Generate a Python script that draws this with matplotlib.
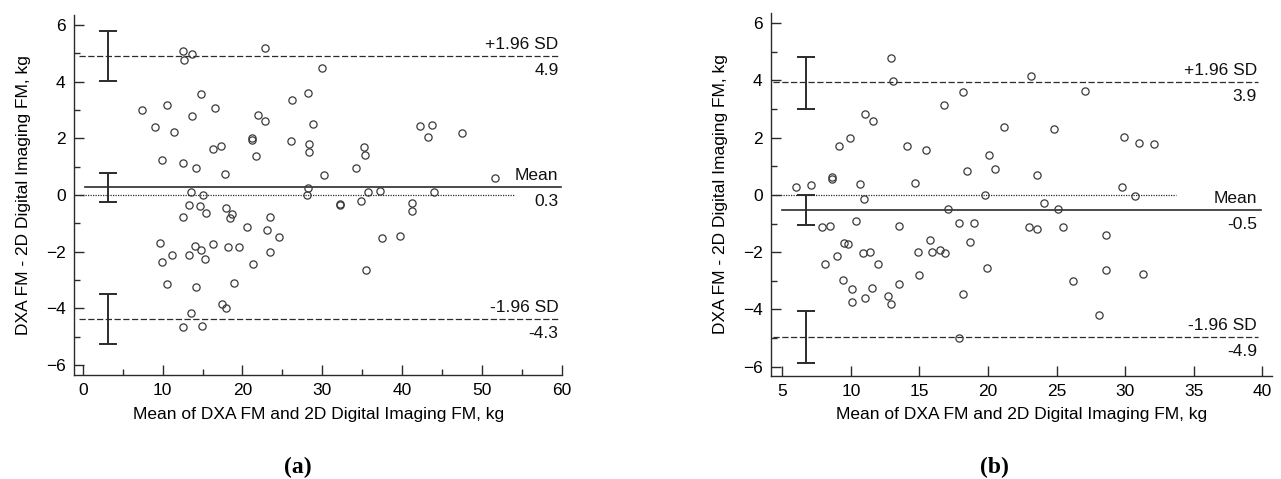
#!/usr/bin/env python3
"""
Bland-Altman plots: DXA FM vs 2D digital imaging FM, two panels (a) and (b).
"""

import matplotlib
matplotlib.use('Agg')
import matplotlib.pyplot as plt
from matplotlib.ticker import MultipleLocator

# --- panel (a) data ---
A_MEAN = [12.5, 12.7, 13.7, 22.8, 7.36, 9.07, 10.6, 11.4, 9.95, 14.8, 13.7, 16.6,
          12.6, 14.2, 16.3, 17.3, 17.8, 21.2, 21.2, 22.0, 22.8, 21.7, 26.2, 26.1,
          28.2, 28.8, 28.3, 28.3, 28.2, 28.1, 13.5, 15.0, 13.3, 14.7, 15.4, 12.5,
          17.9, 18.7, 18.4, 20.6, 23.5, 23.1, 24.6,
          30.0, 42.2, 43.8, 43.3, 47.5, 35.2, 35.4, 34.2, 30.2, 51.6, 32.2, 32.2,
          34.9, 35.7, 37.2, 44.0, 41.3, 41.3, 37.5, 39.7, 35.5,
          9.7, 9.87, 11.2, 13.3, 14.0, 14.8, 15.3, 16.3, 18.2, 19.6, 21.3, 23.4,
          10.5, 14.2, 18.9, 13.5, 17.4, 18.0, 12.5, 14.9]
A_DIFF = [5.09, 4.76, 4.96, 5.2, 3.0, 2.4, 3.17, 2.23, 1.25, 3.55, 2.79, 3.06,
          1.12, 0.94, 1.61, 1.74, 0.74, 2.0, 1.95, 2.82, 2.62, 1.36, 3.35, 1.92,
          3.59, 2.5, 1.8, 1.53, 0.24, 0.0, 0.09, 0.0, -0.35, -0.39, -0.62, -0.78,
          -0.47, -0.66, -0.82, -1.12, -0.78, -1.25, -1.47,
          4.49, 2.44, 2.47, 2.04, 2.2, 1.68, 1.40, 0.94, 0.70, 0.59, -0.30, -0.36,
          -0.21, 0.09, 0.15, 0.09, -0.29, -0.56, -1.53, -1.45, -2.65,
          -1.68, -2.35, -2.1, -2.1, -1.79, -1.94, -2.27, -1.72, -1.85, -1.82, -2.45, -2.02,
          -3.14, -3.26, -3.12, -4.15, -3.85, -3.97, -4.65, -4.61]
A_BIAS, A_UPPER, A_LOWER = 0.27, 4.9, -4.37
A_LABELS = ['4.9', '0.3', '-4.3']
# 95% CI of the limits and of the bias (low, high)
A_CI = [(4.02, 5.79), (-0.24, 0.77), (-5.26, -3.5)]

# --- panel (b) data ---
B_MEAN = [6.0, 7.1, 8.6, 8.6, 9.15, 9.95, 11.0, 11.6, 12.9, 13.1, 10.7, 10.95,
          14.1, 15.5, 14.7, 16.8, 17.1, 7.9, 8.5, 10.4, 13.5, 17.85,
          18.2, 23.1, 27.1, 21.2, 24.8, 29.9, 31.0, 32.1, 20.1, 18.5, 20.5, 23.6,
          19.8, 29.8, 30.7, 24.1, 25.1, 19.0, 23.0, 23.6, 25.5, 28.6,
          18.7, 16.9, 19.9, 26.2, 28.6, 31.3, 18.2, 28.1, 17.9,
          9.5, 9.8, 9.0, 8.1, 10.9, 11.4, 12.0, 9.4, 10.1, 11.55, 10.1, 11.0,
          12.7, 12.9, 13.5, 14.9, 15.0, 15.8, 15.9, 16.5]
B_DIFF = [0.26, 0.35, 0.64, 0.55, 1.71, 1.99, 2.83, 2.59, 4.78, 3.97, 0.38, -0.14,
          1.71, 1.57, 0.43, 3.13, -0.49, -1.12, -1.08, -0.9, -1.08, -0.97,
          3.59, 4.15, 3.62, 2.37, 2.31, 2.03, 1.81, 1.78, 1.40, 0.84, 0.90, 0.68,
          -0.02, 0.26, -0.03, -0.27, -0.49, -0.97, -1.11, -1.18, -1.11, -1.41,
          -1.63, -2.04, -2.56, -3.0, -2.62, -2.75, -3.48, -4.2, -5.01,
          -1.69, -1.71, -2.12, -2.41, -2.02, -1.99, -2.41, -2.97, -3.29, -3.24, -3.76, -3.59,
          -3.53, -3.8, -3.1, -1.99, -2.79, -1.57, -1.99, -1.92]
B_BIAS, B_UPPER, B_LOWER = -0.52, 3.93, -4.97
B_LABELS = ['3.9', '-0.5', '-4.9']
B_CI = [(3.02, 4.81), (-1.05, 0.0), (-5.89, -4.06)]

XLABEL = 'Mean of DXA FM and 2D Digital Imaging FM, kg'
YLABEL = 'DXA FM - 2D Digital Imaging FM, kg'

INK = '#2b2b2b'
FS = 12.5


def bland_altman(ax, means, diffs, bias, upper, lower, labels, ci, *,
                 xlim, ylim, xmajor, xminor, ci_x, sd_x, mean_x, zero_x):
    ax.plot(means, diffs, 'o', ms=5.2, mfc='none', mec='#3a3a3a', mew=0.9,
            zorder=3)

    ax.plot(sd_x, [upper, upper], ls=(0, (5, 2)), lw=0.9, color=INK)
    ax.plot(sd_x, [lower, lower], ls=(0, (5, 2)), lw=0.9, color=INK)
    ax.plot(mean_x, [bias, bias], ls='-', lw=1.2, color=INK)
    ax.plot(zero_x, [0, 0], ls=(0, (1, 1)), lw=0.9, color=INK)

    for lo, hi in ci:
        c = 0.5 * (lo + hi)
        ax.errorbar([ci_x], [c], yerr=[[c - lo], [hi - c]], fmt='none',
                    ecolor=INK, elinewidth=1.4, capsize=6.5, capthick=1.4)

    xr = mean_x[1] - 0.3
    for y, top, bottom in [(upper, '+1.96 SD', labels[0]),
                           (bias, 'Mean', labels[1]),
                           (lower, '-1.96 SD', labels[2])]:
        ax.annotate(top, (xr, y), xytext=(0, 3), textcoords='offset points',
                    ha='right', va='bottom', fontsize=FS, color='#111111')
        ax.annotate(bottom, (xr, y), xytext=(0, -5), textcoords='offset points',
                    ha='right', va='top', fontsize=FS, color='#111111')

    ax.set_xlim(*xlim)
    ax.set_ylim(*ylim)
    ax.xaxis.set_major_locator(MultipleLocator(xmajor))
    if xminor:
        ax.xaxis.set_minor_locator(MultipleLocator(xminor))
    ax.yaxis.set_major_locator(MultipleLocator(2))
    ax.yaxis.set_minor_locator(MultipleLocator(1))
    ax.tick_params(which='major', direction='in', length=7, width=1,
                   color=INK, labelsize=FS, pad=6)
    ax.tick_params(which='minor', direction='in', length=4, width=1, color=INK)
    for side in ('top', 'right'):
        ax.spines[side].set_visible(False)
    for side in ('left', 'bottom'):
        ax.spines[side].set_color(INK)
        ax.spines[side].set_linewidth(1.0)
    ax.set_xlabel(XLABEL, fontsize=FS, labelpad=6)
    ax.set_ylabel(YLABEL, fontsize=FS, labelpad=11)


def main():
    plt.rcParams['font.family'] = ['Liberation Sans', 'DejaVu Sans']
    fig = plt.figure(figsize=(12.81, 4.79), dpi=100)

    ax_a = fig.add_axes([0.0578, 0.2171, 0.381, 0.7516])
    bland_altman(ax_a, A_MEAN, A_DIFF, A_BIAS, A_UPPER, A_LOWER, A_LABELS, A_CI,
                 xlim=(-1.1, 60.05), ylim=(-6.35, 6.35), xmajor=10, xminor=5,
                 ci_x=3.2, sd_x=[-0.5, 59.6], mean_x=[0.25, 59.9],
                 zero_x=[-0.4, 54.2])

    ax_b = fig.add_axes([0.6019, 0.2157, 0.391, 0.7566])
    bland_altman(ax_b, B_MEAN, B_DIFF, B_BIAS, B_UPPER, B_LOWER, B_LABELS, B_CI,
                 xlim=(4.18, 40.7), ylim=(-6.32, 6.35), xmajor=5, xminor=None,
                 ci_x=6.7, sd_x=[4.3, 39.7], mean_x=[5.0, 39.9],
                 zero_x=[4.3, 33.7])

    fig.text(298 / 1281, 1 - 467 / 479, '(a)', ha='center', va='center',
             fontsize=17, fontweight='bold', family=['Liberation Serif'])
    fig.text(994 / 1281, 1 - 467 / 479, '(b)', ha='center', va='center',
             fontsize=17, fontweight='bold', family=['Liberation Serif'])

    fig.savefig('out.png', dpi=100)
    plt.close(fig)


if __name__ == '__main__':
    main()
